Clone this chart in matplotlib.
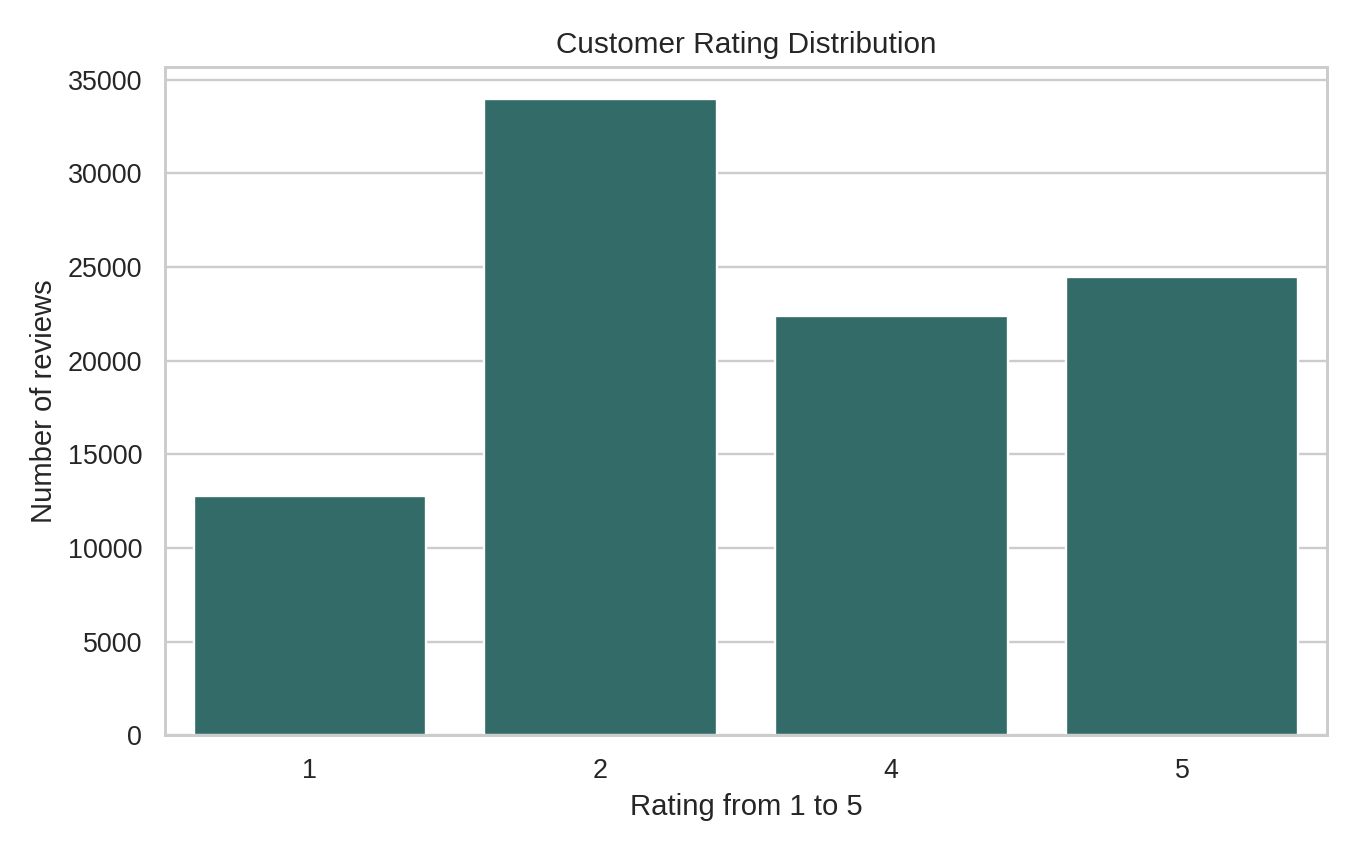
import numpy as np
import matplotlib
matplotlib.use( 'Agg' )
import matplotlib.pyplot as plt
import seaborn as sns

# ratings present in the data (no 3s)
ratings = [ '1', '2', '4', '5' ]
counts = [ 12800, 33980, 22370, 24450 ]

sns.set_theme( style='whitegrid', context='notebook' )
plt.rcParams['font.family'] = [ 'Liberation Sans', 'DejaVu Sans' ]

fs_tick = 11.4
fs_lab = 12.4
fs_tit = 12.6

fig = plt.figure( figsize=( 8, 5 ), dpi=170 )
fig.subplots_adjust( left=0.121, bottom=0.135, right=0.976, top=0.921 )
ax = fig.add_subplot( 1, 1, 1 )

sns.barplot( x=ratings, y=counts, color='#336b68', saturation=1.0, ax=ax )

ax.set_title( 'Customer Rating Distribution', fontsize=fs_tit )
ax.set_xlabel( 'Rating from 1 to 5', fontsize=fs_lab )
ax.set_ylabel( 'Number of reviews', fontsize=fs_lab )
ax.tick_params( labelsize=fs_tick )

fig.savefig( 'out.png', dpi=170 )
